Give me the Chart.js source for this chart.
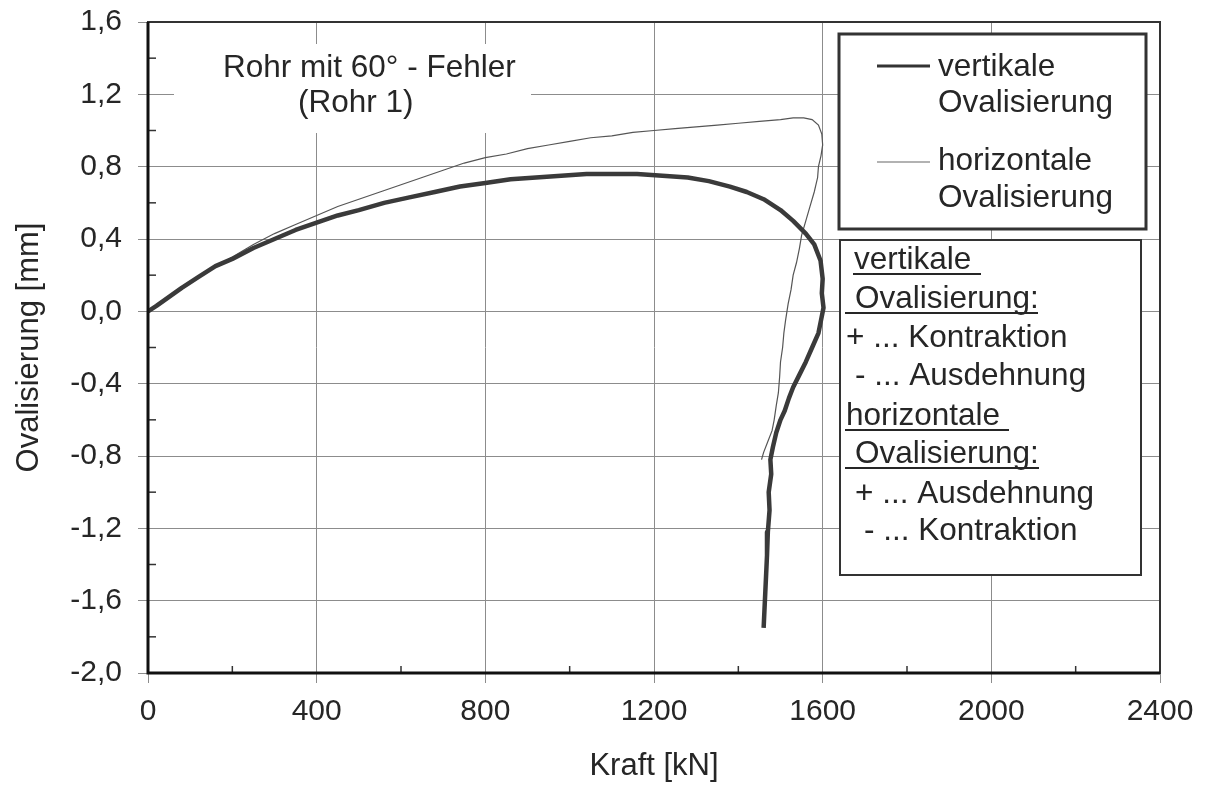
<!DOCTYPE html>
<html>
<head>
<meta charset="utf-8">
<script src="https://cdn.jsdelivr.net/npm/chart.js@4.4.1/dist/chart.umd.min.js"></script>
<style>
  body { margin: 0; background: #fff; }
</style>
</head>
<body>
<canvas id="ovalChart" width="1206" height="787"></canvas>
<script>
// vertikale Ovalisierung (dicke Linie)
const forceVert = [0, 20, 50, 80, 120, 160, 200, 250, 300, 350, 400, 450, 500, 560, 620, 680, 740, 800, 860, 920, 980, 1040, 1100, 1160, 1220, 1280, 1330, 1380, 1420, 1460, 1500, 1530, 1560, 1580, 1595, 1600, 1598, 1602, 1596, 1590, 1575, 1560, 1545, 1530, 1520, 1510, 1500, 1490, 1482, 1476, 1478, 1472, 1474, 1470, 1468, 1466, 1464, 1462, 1460];
const ovalVert = [0, 0.03, 0.08, 0.13, 0.19, 0.25, 0.29, 0.35, 0.40, 0.45, 0.49, 0.53, 0.56, 0.60, 0.63, 0.66, 0.69, 0.71, 0.73, 0.74, 0.75, 0.76, 0.76, 0.76, 0.75, 0.74, 0.72, 0.69, 0.66, 0.62, 0.56, 0.50, 0.43, 0.37, 0.28, 0.18, 0.10, 0.02, -0.05, -0.12, -0.20, -0.28, -0.35, -0.42, -0.48, -0.55, -0.60, -0.67, -0.75, -0.82, -0.90, -1.00, -1.10, -1.22, -1.35, -1.45, -1.55, -1.65, -1.75];

// horizontale Ovalisierung (dünne Linie)
const forceHor = [0, 50, 100, 150, 200, 250, 300, 350, 400, 450, 500, 550, 600, 650, 700, 750, 800, 850, 900, 950, 1000, 1050, 1100, 1150, 1200, 1250, 1300, 1350, 1400, 1450, 1500, 1530, 1555, 1575, 1590, 1598, 1600, 1596, 1590, 1588, 1580, 1570, 1560, 1550, 1545, 1538, 1530, 1525, 1518, 1512, 1508, 1505, 1500, 1498, 1495, 1490, 1485, 1480, 1470, 1460, 1455];
const ovalHor = [0, 0.08, 0.16, 0.23, 0.30, 0.37, 0.43, 0.48, 0.53, 0.58, 0.62, 0.66, 0.70, 0.74, 0.78, 0.82, 0.85, 0.87, 0.90, 0.92, 0.94, 0.96, 0.97, 0.99, 1.00, 1.01, 1.02, 1.03, 1.04, 1.05, 1.06, 1.07, 1.07, 1.06, 1.03, 0.98, 0.92, 0.86, 0.80, 0.74, 0.66, 0.58, 0.50, 0.42, 0.35, 0.27, 0.20, 0.12, 0.04, -0.05, -0.12, -0.20, -0.28, -0.36, -0.45, -0.52, -0.60, -0.66, -0.72, -0.78, -0.82];

const minorForce = [200, 600, 1000, 1400, 1800, 2200];
const minorOval = [1.4, 1.0, 0.6, 0.2, -0.2, -0.6, -1.0, -1.4, -1.8];

const FONT = '"Liberation Sans", Arial, Helvetica, sans-serif';
const TEXT = '#262626';

const toPoints = (xs, ys) => xs.map((x, i) => ({ x: x, y: ys[i] }));

const decor = {
  id: 'decor',
  afterDatasetsDraw(chart) {
    const { ctx, chartArea: a, scales: { x, y } } = chart;
    ctx.save();

    // minor ticks inside
    ctx.strokeStyle = '#333';
    ctx.lineWidth = 1.5;
    minorForce.forEach(f => {
      const px = x.getPixelForValue(f);
      ctx.beginPath(); ctx.moveTo(px, a.bottom); ctx.lineTo(px, a.bottom - 7); ctx.stroke();
    });
    minorOval.forEach(v => {
      const py = y.getPixelForValue(v);
      ctx.beginPath(); ctx.moveTo(a.left, py); ctx.lineTo(a.left + 8, py); ctx.stroke();
    });

    // frame
    ctx.strokeStyle = '#333';
    ctx.lineWidth = 2;
    ctx.strokeRect(a.left, a.top, a.right - a.left, a.bottom - a.top);
    ctx.strokeStyle = '#111';
    ctx.lineWidth = 3;
    ctx.beginPath();
    ctx.moveTo(a.left, a.top); ctx.lineTo(a.left, a.bottom); ctx.lineTo(a.right, a.bottom);
    ctx.stroke();

    ctx.font = '31.5px ' + FONT;
    ctx.textBaseline = 'alphabetic';
    ctx.textAlign = 'left';

    // title block
    ctx.fillStyle = '#fff';
    ctx.fillRect(174, 44, 357, 89);
    ctx.fillStyle = TEXT;
    ctx.fillText('Rohr mit 60° - Fehler', 223, 77);
    ctx.fillText('(Rohr 1)', 298, 112);

    // legend 1
    ctx.fillStyle = '#fff';
    ctx.fillRect(839, 34, 307, 195);
    ctx.strokeStyle = '#333';
    ctx.lineWidth = 3;
    ctx.strokeRect(839, 34, 307, 195);
    ctx.beginPath(); ctx.moveTo(877, 66); ctx.lineTo(930, 66); ctx.stroke();
    ctx.strokeStyle = '#666';
    ctx.lineWidth = 1.2;
    ctx.beginPath(); ctx.moveTo(877, 162); ctx.lineTo(930, 162); ctx.stroke();
    ctx.fillStyle = TEXT;
    ctx.fillText('vertikale', 938, 76);
    ctx.fillText('Ovalisierung', 938, 112);
    ctx.fillText('horizontale', 938, 170);
    ctx.fillText('Ovalisierung', 938, 207);

    // legend 2
    ctx.fillStyle = '#fff';
    ctx.fillRect(840, 240, 301, 335);
    ctx.strokeStyle = '#333';
    ctx.lineWidth = 2;
    ctx.strokeRect(840, 240, 301, 335);
    ctx.fillStyle = TEXT;
    const lines = [
      ['vertikale', 854, 269, [853, 981]],
      ['Ovalisierung:', 855, 308, [845, 1038]],
      ['+ ... Kontraktion', 846, 347, null],
      ['- ... Ausdehnung', 855, 385, null],
      ['horizontale', 846, 425, [845, 1009]],
      ['Ovalisierung:', 855, 463, [845, 1039]],
      ['+ ... Ausdehnung', 855, 503, null],
      ['- ... Kontraktion', 864, 540, null]
    ];
    ctx.strokeStyle = TEXT;
    ctx.lineWidth = 2;
    lines.forEach(([t, lx, by, ul]) => {
      ctx.fillText(t, lx, by);
      if (ul) {
        ctx.beginPath(); ctx.moveTo(ul[0], by + 5); ctx.lineTo(ul[1], by + 5); ctx.stroke();
      }
    });

    ctx.restore();
  }
};

const data = {
  datasets: [{
    label: 'vertikale Ovalisierung',
    data: toPoints(forceVert, ovalVert),
    showLine: true,
    borderColor: '#3a3a3a',
    borderWidth: 4.5,
    pointRadius: 0,
    tension: 0,
    borderJoinStyle: 'round'
  }, {
    label: 'horizontale Ovalisierung',
    data: toPoints(forceHor, ovalHor),
    showLine: true,
    borderColor: '#555',
    borderWidth: 1.2,
    pointRadius: 0,
    tension: 0
  }]
};

const ovalConfig = {
  type: 'scatter',
  data: data,
  options: {
    responsive: false,
    animation: false,
    devicePixelRatio: 1,
    layout: { padding: { top: 22, right: 46, left: 0, bottom: 0 } },
    plugins: { legend: { display: false }, tooltip: { enabled: false } },
    scales: {
      x: {
        type: 'linear',
        min: 0,
        max: 2400,
        afterFit: s => { s.height = 114; s.paddingLeft = 0; s.paddingRight = 0; },
        ticks: {
          stepSize: 400,
          padding: 11,
          color: TEXT,
          font: { family: FONT, size: 30 },
          maxRotation: 0,
          callback: v => String(v)
        },
        grid: { color: '#8c8c8c', lineWidth: 1, tickLength: 10 },
        border: { display: false },
        title: {
          display: true,
          text: 'Kraft [kN]',
          color: TEXT,
          font: { family: FONT, size: 31 },
          padding: { top: 0, bottom: 2 }
        }
      },
      y: {
        type: 'linear',
        min: -2,
        max: 1.6,
        afterFit: s => { s.width = 148; s.paddingTop = 0; s.paddingBottom = 0; },
        ticks: {
          stepSize: 0.4,
          padding: 16,
          color: TEXT,
          font: { family: FONT, size: 30 },
          callback: v => (Math.abs(v) < 1e-9 ? 0 : v).toFixed(1).replace('.', ',')
        },
        grid: { color: '#8c8c8c', lineWidth: 1, tickLength: 10 },
        border: { display: false },
        title: {
          display: true,
          text: 'Ovalisierung [mm]',
          color: TEXT,
          font: { family: FONT, size: 31 },
          padding: { top: 11, bottom: 0 }
        }
      }
    }
  },
  plugins: [decor]
};

const ovalChart = new Chart(document.getElementById('ovalChart'), ovalConfig);
</script>
</body>
</html>
